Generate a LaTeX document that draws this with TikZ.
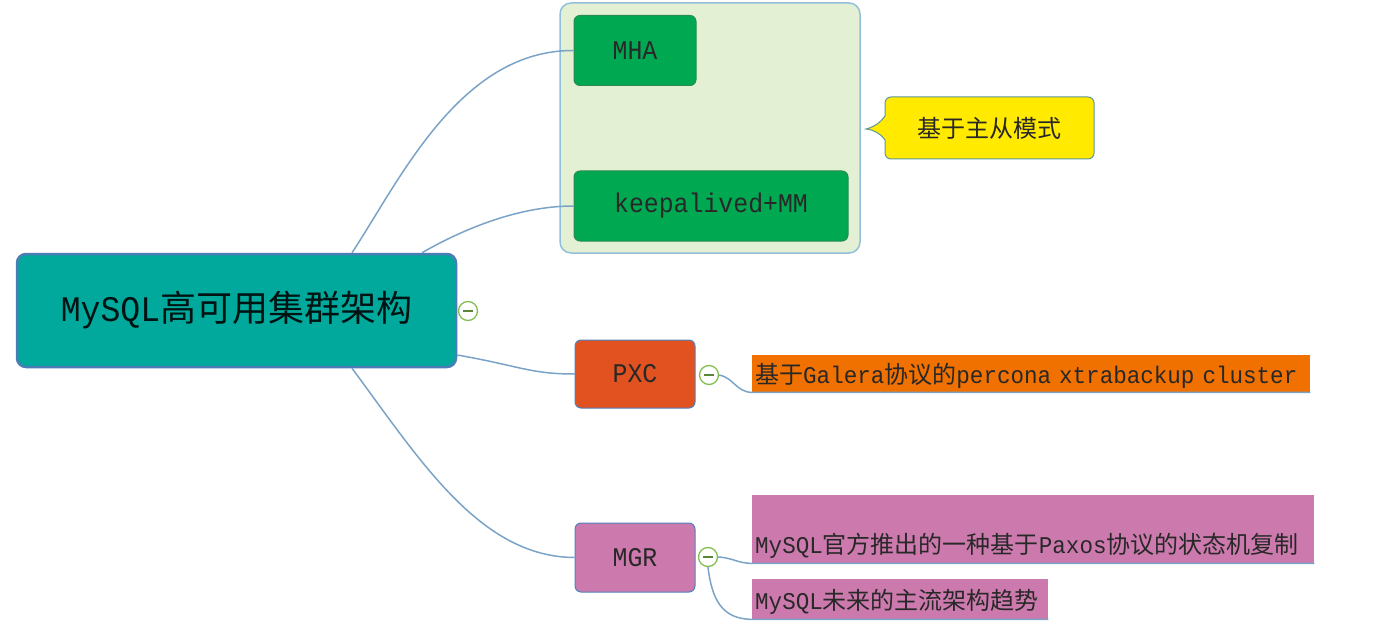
\documentclass[tikz,border=0pt]{standalone}
\usepackage{fontspec}
\newfontfamily\cjk{Noto Sans CJK SC}
\newfontfamily\lat[FakeStretch=0.92]{Liberation Mono}
\newfontfamily\latn[FakeStretch=0.94]{Liberation Mono}
\definecolor{rootfill}{RGB}{0,169,155}
\definecolor{rootline}{RGB}{74,125,181}
\definecolor{grpfill}{RGB}{227,240,211}
\definecolor{grpline}{RGB}{146,192,220}
\definecolor{greenfill}{RGB}{0,168,82}
\definecolor{greenline}{RGB}{40,140,80}
\definecolor{yel}{RGB}{255,234,0}
\definecolor{yelline}{RGB}{95,150,150}
\definecolor{pxcfill}{RGB}{226,82,32}
\definecolor{orangenote}{RGB}{240,112,0}
\definecolor{pinkfill}{RGB}{204,122,173}
\definecolor{boxline}{RGB}{80,130,190}
\definecolor{linec}{RGB}{123,163,200}
\definecolor{togg}{RGB}{130,190,80}
\definecolor{txt}{RGB}{40,40,40}
\begin{document}
\begin{tikzpicture}[x=1pt,y=-1pt,
  box/.style={rounded corners=6pt, draw=boxline, line width=1pt, inner sep=0pt, text=txt, font=\cjk},
  conn/.style={draw=linec, line width=1.5pt},
  note/.style={anchor=north west, inner xsep=3pt, inner ysep=0pt, text=txt, font=\cjk\fontsize{24}{28}\selectfont, align=left},
  toggle/.style={circle, draw=togg, line width=1.3pt, fill=white, minimum size=19pt, inner sep=0pt,
    path picture={\draw[togg!70!black, line width=1.6pt] ([xshift=-5pt]path picture bounding box.center) -- ([xshift=5pt]path picture bounding box.center);}}
]
\useasboundingbox (0,0) rectangle (1400,631);

% group box
\node[draw=grpline, fill=grpfill, line width=1.5pt, rounded corners=11pt, minimum width=300pt, minimum height=250pt, inner sep=0pt] (grp) at (710,128) {};

% nodes
\node[box, draw=rootline, line width=2.5pt, rounded corners=9pt, fill=rootfill, minimum width=439pt, minimum height=113pt,
  text=black!85!teal, font=\cjk\fontsize{36}{40}\selectfont] (root) at (236.5,310.5) {{\lat MySQL}高可用集群架构};
\node[box, draw=greenline, fill=greenfill, minimum width=122pt, minimum height=70pt,
  font=\lat\fontsize{27}{30}\selectfont] (mha) at (635,50.5) {MHA};
\node[box, draw=greenline, fill=greenfill, minimum width=274pt, minimum height=70pt,
  font=\lat\fontsize{27}{30}\selectfont] (keep) at (711,206) {keepalived+MM};
\node[box, fill=pxcfill, minimum width=120pt, minimum height=68pt,
  font=\lat\fontsize{27}{30}\selectfont] (pxc) at (635,374) {PXC};
\node[box, fill=pinkfill, minimum width=120pt, minimum height=69pt,
  font=\lat\fontsize{27}{30}\selectfont] (mgr) at (635,557.5) {MGR};

% callout shape
\draw[fill=yel, draw=yelline, line width=1pt]
  (885,116) [rounded corners=6pt] -- (885,97) -- (1094,97) -- (1094,159) -- (885,159) [sharp corners] -- (885,140)
  .. controls (880,133) and (874,130) .. (866,129)
  .. controls (874,127) and (880,123) .. (885,116) -- cycle;
\node[text=txt, font=\cjk\fontsize{24}{28}\selectfont, inner sep=0pt] (callout) at (989.5,128) {基于主从模式};

% notes
\node[note, fill=orangenote, text width=552pt, text height=28pt, text depth=9pt] (pxcnote) at (752,355)
  {基于{\latn Galera}协议的{\latn percona xtrabackup cluster}};
\node[note, fill=pinkfill, text width=556pt, text height=58pt, text depth=10pt] (mgrn1) at (752,495)
  {{\latn MySQL}官方推出的一种基于{\latn Paxos}协议的状态机复制};
\node[note, fill=pinkfill, text width=290pt, text height=30pt, text depth=10pt] (mgrn2) at (752,579)
  {{\latn MySQL}未来的主流架构趋势};

% toggles
\node[toggle] (rootc) at (468,311) {};
\node[toggle] (pxcc) at (709,375) {};
\node[toggle] (mgrc) at (708,557) {};

% connectors
\draw[conn] ([xshift=115.5pt]root.north) .. controls (400,180) and (460,50) .. (mha.west);
\draw[conn] ([xshift=185.5pt]root.north) .. controls (465,228) and (520,206) .. (keep.west);
\draw[conn] ([yshift=-44.5pt]root.east) .. controls (520,366) and (530,374) .. (pxc.west);
\draw[conn] ([xshift=115.5pt]root.south) .. controls (420,460) and (480,557) .. (mgr.west);

\draw[conn] (pxcc.east) .. controls (734,378) and (736,392) .. (pxcnote.south west) -- (pxcnote.south east);
\draw[conn] (mgrc.east) .. controls (734,558) and (736,563) .. (mgrn1.south west) -- (mgrn1.south east);
\draw[conn] (mgrc.south) .. controls (712,600) and (722,619) .. (mgrn2.south west) -- (mgrn2.south east);
\end{tikzpicture}
\end{document}
